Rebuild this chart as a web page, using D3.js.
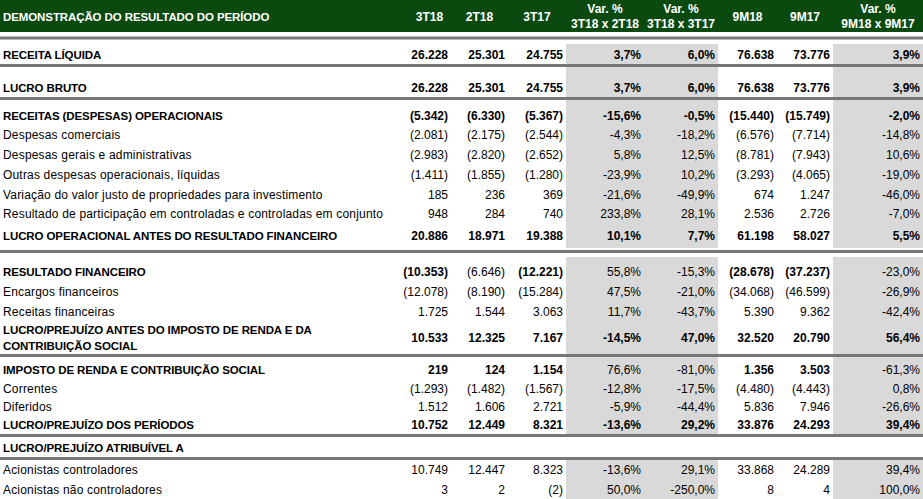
<!DOCTYPE html>
<html><head><meta charset="utf-8">
<script src="https://cdn.jsdelivr.net/npm/d3@7"></script>
<style>
html,body{margin:0;padding:0;background:#fff;}
svg{display:block;}
text{font-family:"Liberation Sans",Arial,sans-serif;font-size:12px;}
text.lab{letter-spacing:0.18px;}
text.lab.b{font-size:11.5px;letter-spacing:-0.1px;}
</style>
</head><body>
<svg id="c" width="923" height="499"></svg>
<script>
// ---------------- DATA ----------------
const title = "DEMONSTRAÇÃO DO RESULTADO DO PERÍODO";
const columnHeaders = [["3T18"],["2T18"],["3T17"],["Var. %","3T18 x 2T18"],["Var. %","3T18 x 3T17"],["9M18"],["9M17"],["Var. %","9M18 x 9M17"]];
const columnKinds = ["amt","amt","amt","pct","pct","amt","amt","pct"];
const labels = [
  "RECEITA LÍQUIDA",
  "LUCRO BRUTO",
  "RECEITAS (DESPESAS) OPERACIONAIS",
  "Despesas comerciais",
  "Despesas gerais e administrativas",
  "Outras despesas operacionais, líquidas",
  "Variação do valor justo de propriedades para investimento",
  "Resultado de participação em controladas e controladas em conjunto",
  "LUCRO OPERACIONAL ANTES DO RESULTADO FINANCEIRO",
  "RESULTADO FINANCEIRO",
  "Encargos financeiros",
  "Receitas financeiras",
  "LUCRO/PREJUÍZO ANTES DO IMPOSTO DE RENDA E DA\nCONTRIBUIÇÃO SOCIAL",
  "IMPOSTO DE RENDA E CONTRIBUIÇÃO SOCIAL",
  "Correntes",
  "Diferidos",
  "LUCRO/PREJUÍZO DOS PERÍODOS",
  "LUCRO/PREJUÍZO ATRIBUÍVEL A",
  "Acionistas controladores",
  "Acionistas não controladores"
];
const val3T18 = [26228, 26228, -5342, -2081, -2983, -1411, 185, 948, 20886, -10353, -12078, 1725, 10533, 219, -1293, 1512, 10752, null, 10749, 3];
const val2T18 = [25301, 25301, -6330, -2175, -2820, -1855, 236, 284, 18971, -6646, -8190, 1544, 12325, 124, -1482, 1606, 12449, null, 12447, 2];
const val3T17 = [24755, 24755, -5367, -2544, -2652, -1280, 369, 740, 19388, -12221, -15284, 3063, 7167, 1154, -1567, 2721, 8321, null, 8323, -2];
const var3T18x2T18 = [3.7, 3.7, -15.6, -4.3, 5.8, -23.9, -21.6, 233.8, 10.1, 55.8, 47.5, 11.7, -14.5, 76.6, -12.8, -5.9, -13.6, null, -13.6, 50.0];
const var3T18x3T17 = [6.0, 6.0, -0.5, -18.2, 12.5, 10.2, -49.9, 28.1, 7.7, -15.3, -21.0, -43.7, 47.0, -81.0, -17.5, -44.4, 29.2, null, 29.1, -250.0];
const val9M18 = [76638, 76638, -15440, -6576, -8781, -3293, 674, 2536, 61198, -28678, -34068, 5390, 32520, 1356, -4480, 5836, 33876, null, 33868, 8];
const val9M17 = [73776, 73776, -15749, -7714, -7943, -4065, 1247, 2726, 58027, -37237, -46599, 9362, 20790, 3503, -4443, 7946, 24293, null, 24289, 4];
const var9M18x9M17 = [3.9, 3.9, -2.0, -14.8, 10.6, -19.0, -46.0, -7.0, 5.5, -23.0, -26.9, -42.4, 56.4, -61.3, 0.8, -26.6, 39.4, null, 39.4, 100.0];
const seriesCols = [val3T18, val2T18, val3T17, var3T18x2T18, var3T18x3T17, val9M18, val9M17, var9M18x9M17];

// ---------------- STYLE / LAYOUT ----------------
const boldRows = new Set([0,1,2,8,9,12,13,16,17]);
const regularCells = new Set(["9-1","9-3","9-4","9-7","13-3","13-4","13-7"]);
const greyCols = new Set([3,4,7]);
const W = 923, H = 499;
const colWidths = [408, 43, 57, 58, 78, 74, 59, 56, 90];
const colEdges = [0, ...d3.cumsum(colWidths)];
const headerH = 32;
const layoutSeq = [
  {gap:4.5}, {rule:3}, {gap:4.5},
  {row:0,h:20}, {rule:3},
  {row:1,h:30}, {rule:3},
  {row:2,h:25},{row:3,h:19},{row:4,h:20},{row:5,h:20},{row:6,h:20},{row:7,h:19},{row:8,h:22},{gap:3,grey:true},{gap:2},
  {rule:3},{gap:4},
  {row:9,h:24},{row:10,h:20},{row:11,h:20},{row:12,h:33,center:true},
  {rule:3},
  {row:13,h:22},{row:14,h:19},{row:15,h:18},{row:16,h:18},
  {rule:3},
  {row:17,h:20,noGrey:true},
  {rule:3},
  {row:18,h:19},{row:19,h:20}
];
const GREEN = "#0b4a0f", GREY = "#d9d9d9", RULE = "#767676";

// ---------------- RENDER ----------------
const loc = d3.formatLocale({decimal:",", thousands:".", grouping:[3], currency:["R$",""], minus:"-"});
const fAmt = loc.format(",.0f"), fPct = loc.format(".1f");
function fmt(v, kind){
  if (v == null) return "";
  if (kind === "pct") return fPct(v) + "%";
  return v < 0 ? "(" + fAmt(-v) + ")" : fAmt(v);
}

const svg = d3.select("#c");
const gBg = svg.append("g"), gRule = svg.append("g"), gText = svg.append("g");

// header
gBg.append("rect").attr("x",0).attr("y",0).attr("width",W).attr("height",headerH).attr("fill",GREEN);
gText.append("text").attr("class","lab b").attr("x",3).attr("y",21).attr("fill","#fff").attr("font-weight","bold").text(title);
columnHeaders.forEach((lines,i)=>{
  const cx = (colEdges[i+1] + colEdges[i+2]) / 2;
  const ys = lines.length === 1 ? [21] : [13.3, 28.3];
  const t = gText.append("text").attr("text-anchor","middle").attr("fill","#fff").attr("font-weight","bold");
  lines.forEach((l,k)=> t.append("tspan").attr("x",cx).attr("y",ys[k]).text(l));
});

// body
let y = headerH;
layoutSeq.forEach(it=>{
  if (it.rule){
    gRule.append("rect").attr("x",0).attr("y",y).attr("width",W).attr("height",it.rule).attr("fill",RULE);
    y += it.rule; return;
  }
  const h = it.h != null ? it.h : it.gap;
  if (it.grey || (it.row != null && !it.noGrey)){
    greyCols.forEach(c=>{
      gBg.append("rect").attr("x",colEdges[c+1]).attr("y",y).attr("width",colWidths[c+1]).attr("height",h).attr("fill",GREY);
    });
  }
  if (it.row != null){
    const r = it.row;
    const bottom = y + h;
    const lines = labels[r].split("\n");
    const mid = y + h/2;
    const isB = boldRows.has(r);
    const lab = gText.append("text").attr("class", isB ? "lab b" : "lab").attr("x",3).attr("font-weight", isB ? "bold" : "normal");
    if (lines.length > 1){
      lines.forEach((l,k)=> lab.append("tspan").attr("x",3).attr("y", mid + 4.3 + (k - (lines.length-1)/2) * 16).text(l));
    } else {
      lab.attr("y", bottom - 5).text(lines[0]);
    }
    const vy = it.center ? mid + 4.3 : bottom - 5;
    seriesCols.forEach((arr,c)=>{
      const v = arr[r];
      if (v == null) return;
      const bold = isB && !regularCells.has(r + "-" + c);
      gText.append("text").attr("x", colEdges[c+2] - 3).attr("y", vy)
        .attr("text-anchor","end").attr("font-weight", bold ? "bold" : "normal")
        .text(fmt(v, columnKinds[c]));
    });
  }
  y += h;
});
</script>
</body></html>
